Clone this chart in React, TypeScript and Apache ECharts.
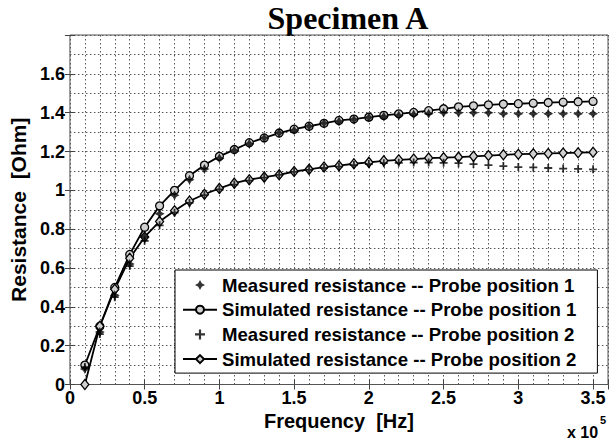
import React, { useEffect, useRef } from "react";
import * as echarts from "echarts";

const freq = [
  10000, 20000, 30000, 40000, 50000, 60000, 70000, 80000, 90000, 100000,
  110000, 120000, 130000, 140000, 150000, 160000, 170000, 180000, 190000, 200000,
  210000, 220000, 230000, 240000, 250000, 260000, 270000, 280000, 290000, 300000,
  310000, 320000, 330000, 340000, 350000,
];

const measured1 = [
  0.08, 0.27, 0.46, 0.62, 0.76, 0.88, 0.975, 1.055, 1.11, 1.165,
  1.205, 1.24, 1.27, 1.295, 1.31, 1.33, 1.345, 1.355, 1.365, 1.375,
  1.38, 1.385, 1.39, 1.395, 1.4, 1.4, 1.4, 1.4, 1.395, 1.395,
  1.395, 1.395, 1.395, 1.395, 1.395,
];

const simulated1 = [
  0.1, 0.3, 0.5, 0.67, 0.81, 0.92, 1.0, 1.075, 1.13, 1.175,
  1.21, 1.245, 1.27, 1.295, 1.315, 1.33, 1.345, 1.36, 1.367, 1.377,
  1.386, 1.394, 1.401, 1.41, 1.42, 1.43, 1.435, 1.44, 1.444, 1.446,
  1.449, 1.452, 1.454, 1.456, 1.458,
];

const measured2 = [
  0.09, 0.26, 0.45, 0.61, 0.74, 0.82, 0.885, 0.935, 0.975, 1.005,
  1.03, 1.05, 1.065, 1.08, 1.095, 1.105, 1.115, 1.122, 1.13, 1.135,
  1.14, 1.142, 1.143, 1.143, 1.142, 1.14, 1.135, 1.13, 1.125, 1.12,
  1.118, 1.115, 1.112, 1.11, 1.108,
];

const simulated2 = [
  0.0, 0.3, 0.49, 0.65, 0.76, 0.84, 0.895, 0.945, 0.98, 1.01,
  1.037, 1.055, 1.068, 1.08, 1.097, 1.108, 1.12, 1.127, 1.137, 1.144,
  1.152, 1.157, 1.161, 1.166, 1.168, 1.171, 1.175, 1.179, 1.183, 1.186,
  1.188, 1.19, 1.192, 1.194, 1.196,
];

const seriesNames = [
  "Measured resistance -- Probe position 1",
  "Simulated resistance -- Probe position 1",
  "Measured resistance -- Probe position 2",
  "Simulated resistance -- Probe position 2",
];

const SANS = "'Liberation Sans', Arial, Helvetica, sans-serif";
const SERIF = "'Liberation Serif', 'Times New Roman', serif";

const STAR = "path://M0,-10 L3.5,-3.5 L10,0 L3.5,3.5 L0,10 L-3.5,3.5 L-10,0 L-3.5,-3.5 Z";
const PLUS =
  "path://M-2.2,-10 L2.2,-10 L2.2,-2.2 L10,-2.2 L10,2.2 L2.2,2.2 L2.2,10 L-2.2,10 L-2.2,2.2 L-10,2.2 L-10,-2.2 L-2.2,-2.2 Z";

const pairs = (ys: number[]) => freq.map((f, i) => [f, ys[i]]);

export default function App() {
  const ref = useRef<HTMLDivElement>(null);
  useEffect(() => {
    if (!ref.current) return;
    const chart = echarts.init(ref.current, null, { renderer: "svg" });
    const gridLine = { type: [1.5, 2.5] as any, color: "#555", width: 1 };
    const tickAxisX = (position: string) => ({
      type: "value",
      min: 0,
      max: 360000,
      interval: 50000,
      position,
      axisLine: { show: false },
      axisTick: { show: true, inside: true, length: 5, lineStyle: { color: "#444" } },
      axisLabel: { show: false },
      splitLine: { show: false },
    });
    chart.setOption({
      animation: false,
      backgroundColor: "#fff",
      grid: {
        left: 63,
        right: 2,
        top: 35,
        bottom: 59.5,
        show: true,
        borderColor: "#555",
        borderWidth: 1,
        backgroundColor: "#fff",
      },
      xAxis: [
        {
          type: "value",
          min: 0,
          max: 360000,
          interval: 10000,
          position: "bottom",
          axisLine: { show: false },
          axisTick: { show: false },
          axisLabel: {
            margin: 4,
            fontSize: 18,
            fontWeight: "bold",
            color: "#000",
            fontFamily: SANS,
            formatter: (v: number) =>
              Math.round(v) % 50000 === 0 && v <= 350000 ? String(v / 100000) : "",
          },
          splitLine: { show: true, lineStyle: gridLine },
          name: "Frequency  [Hz]",
          nameLocation: "middle",
          nameGap: 25,
          nameTextStyle: { fontSize: 20, fontWeight: "bold", color: "#000", fontFamily: SANS },
        },
        tickAxisX("top"),
        tickAxisX("bottom"),
      ],
      yAxis: [
        {
          type: "value",
          min: 0,
          max: 1.8,
          interval: 0.2,
          position: "left",
          axisLine: { show: false },
          axisTick: { show: true, inside: true, length: 5, lineStyle: { color: "#444" } },
          minorTick: { show: false, splitNumber: 2 },
          minorSplitLine: { show: true, lineStyle: gridLine },
          splitLine: { show: true, lineStyle: gridLine },
          axisLabel: {
            margin: 5,
            fontSize: 18,
            fontWeight: "bold",
            color: "#000",
            fontFamily: SANS,
            formatter: (v: number) => (v > 1.75 ? "" : String(Math.round(v * 10) / 10)),
          },
          name: "Resistance  [Ohm]",
          nameLocation: "middle",
          nameGap: 35,
          nameTextStyle: { fontSize: 21, fontWeight: "bold", color: "#000", fontFamily: SANS },
        },
        {
          type: "value",
          min: 0,
          max: 1.8,
          interval: 0.2,
          position: "right",
          axisLine: { show: false },
          axisTick: { show: true, inside: true, length: 5, lineStyle: { color: "#444" } },
          axisLabel: { show: false },
          splitLine: { show: false },
        },
      ],
      legend: {
        orient: "vertical",
        left: 175,
        top: 270,
        data: seriesNames,
        backgroundColor: "#fff",
        borderColor: "#000",
        borderWidth: 1,
        padding: [5, 21, 4, 7],
        itemWidth: 34,
        itemHeight: 10,
        itemGap: 4.7,
        textStyle: {
          fontFamily: SANS,
          fontWeight: "bold",
          fontSize: 18.6,
          color: "#000",
          lineHeight: 20,
        },
      },
      graphic: [
        {
          type: "text",
          x: 348,
          y: 2,
          style: {
            text: "Specimen A",
            font: `bold 32px ${SERIF}`,
            fill: "#000",
            textAlign: "center",
            textVerticalAlign: "top",
          },
        },
        {
          type: "text",
          x: 567,
          y: 424,
          style: {
            text: "x 10",
            font: `bold 16px ${SANS}`,
            fill: "#000",
            textAlign: "left",
            textVerticalAlign: "top",
          },
        },
        {
          type: "text",
          x: 600,
          y: 414,
          style: {
            text: "5",
            font: `bold 11px ${SANS}`,
            fill: "#000",
            textAlign: "left",
            textVerticalAlign: "top",
          },
        },
      ],
      series: [
        {
          name: seriesNames[0],
          type: "scatter",
          data: pairs(measured1),
          symbol: STAR,
          symbolSize: 10,
          itemStyle: { color: "#000" },
          z: 3,
        },
        {
          name: seriesNames[1],
          type: "line",
          data: pairs(simulated1),
          symbol: "circle",
          symbolSize: 8,
          showAllSymbol: true,
          lineStyle: { color: "#000", width: 1.8 },
          itemStyle: { color: "#d0d0d0", borderColor: "#000", borderWidth: 1.3 },
          z: 2,
        },
        {
          name: seriesNames[2],
          type: "scatter",
          data: pairs(measured2),
          symbol: PLUS,
          symbolSize: 8,
          itemStyle: { color: "#000" },
          z: 3,
        },
        {
          name: seriesNames[3],
          type: "line",
          data: pairs(simulated2),
          symbol: "diamond",
          symbolSize: [8, 10],
          showAllSymbol: true,
          lineStyle: { color: "#000", width: 1.8 },
          itemStyle: { color: "#d0d0d0", borderColor: "#000", borderWidth: 1.3 },
          z: 2,
        },
      ],
    });
    return () => chart.dispose();
  }, []);
  return (
    <div
      ref={ref}
      style={{ position: "absolute", left: 0, top: 0, width: 611, height: 444 }}
    />
  );
}
